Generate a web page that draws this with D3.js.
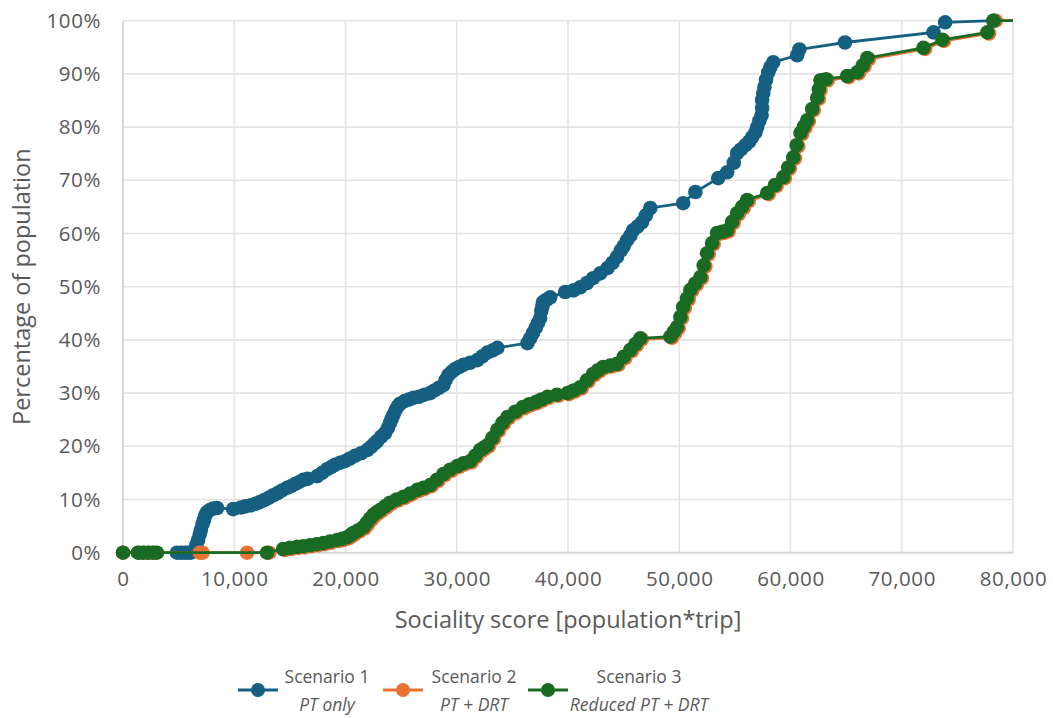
<!DOCTYPE html>
<html>
<head>
<meta charset="utf-8">
<script src="https://cdn.jsdelivr.net/npm/d3@7"></script>
<style>
  html, body { margin: 0; padding: 0; background: #ffffff; }
  svg { display: block; }
  text { font-family: "Open Sans", "Liberation Sans", Arial, sans-serif; fill: #595959; }
</style>
</head>
<body>
<svg id="chart" width="1053" height="718"></svg>
<script>
// ---------- DATA ----------
const xTickValues = [0, 10000, 20000, 30000, 40000, 50000, 60000, 70000, 80000];
const yTickValues = [0, 10, 20, 30, 40, 50, 60, 70, 80, 90, 100];

const seriesNames = ["Scenario 1", "Scenario 2", "Scenario 3"];
const seriesSubtitles = ["PT only", "PT + DRT", "Reduced PT + DRT"];
const seriesColors = ["#156082", "#E97132", "#196B24"];

// Scenario 1 (PT only): sociality score, cumulative % of population
const s1Score = [4850, 5200, 5500, 5800, 6100, 6400, 6600, 6750, 6900, 7000, 7150, 7280, 7400, 7550, 7800, 8100, 8450,
  9900, 10600, 11000, 11500, 11900, 12300, 12700, 13100, 13500, 13900, 14300, 14750, 15100, 15450, 15850, 16200, 16600,
  17450, 17900, 18350, 18700, 19050, 19500, 19950, 20400, 20850, 21400, 21950, 22300, 22600, 22850, 23200, 23550, 23800,
  24000, 24150, 24300, 24500, 24700, 24900, 25300, 25700, 26100, 26600, 27100, 27600, 28000, 28400, 28800, 29000, 29250,
  29550, 29850, 30200, 30600, 31200, 31850, 32300, 32750, 33200, 33650, 36350, 36600, 36850, 37100, 37300, 37500, 37600,
  37700, 37750, 38100, 38400, 39750, 40500, 41100, 41700, 42250, 42900, 43550, 44000, 44400, 44750, 45000, 45300, 45600,
  45850, 46250, 46650, 47000, 47400, 50350, 51450, 53500, 54300, 54900, 55200, 55550, 55950, 56300, 56550, 56850, 57000,
  57200, 57400, 57450, 57450, 57550, 57650, 57800, 58000, 58200, 58450, 60600, 60800, 64900, 72850, 73900, 78250];
const s1Pct = [0, 0, 0, 0, 0, 0.5, 1.5, 2.4, 3.5, 4.3, 5.4, 6.2, 7.0, 7.6, 8.0, 8.3, 8.4,
  8.2, 8.5, 8.7, 8.9, 9.2, 9.5, 9.9, 10.3, 10.8, 11.2, 11.7, 12.2, 12.5, 12.9, 13.3, 13.7, 13.9,
  14.4, 15.0, 15.7, 16.1, 16.5, 16.9, 17.2, 17.7, 18.2, 18.7, 19.3, 19.9, 20.5, 21.0, 21.8, 22.5, 23.4,
  24.4, 25.2, 25.9, 26.8, 27.5, 28.0, 28.5, 28.8, 29.1, 29.3, 29.7, 30.0, 30.5, 31.0, 31.5, 32.5, 33.4,
  34.0, 34.5, 34.9, 35.3, 35.7, 36.2, 36.9, 37.6, 38.0, 38.5, 39.4, 40.3, 41.3, 42.3, 43.2, 44.1, 45.5,
  46.3, 47.1, 47.6, 48.0, 49.0, 49.3, 49.9, 50.7, 51.6, 52.5, 53.5, 54.5, 55.6, 56.8, 57.6, 58.7, 59.6,
  60.6, 61.3, 62.1, 63.4, 64.8, 65.7, 67.8, 70.4, 71.5, 73.3, 75.1, 75.8, 76.6, 77.3, 78.1, 79.0, 80.0,
  81.2, 82.2, 83.6, 85.1, 86.3, 87.5, 88.9, 90.3, 91.3, 92.2, 93.5, 94.6, 95.9, 97.8, 99.7, 100];

// Scenario 2 (PT + DRT)
const s2Score = [0, 1450, 1900, 2350, 2800, 6900, 7150, 11150, 13150,
  14550, 15150, 15800, 16350, 16950, 17550, 18150, 18750, 19400, 19850,
  20300, 20600, 20850, 21300, 21750, 22050, 22350, 22650, 22950, 23250,
  23700, 24150, 24750, 25350, 25950, 26600, 27150, 27750, 28350, 28950,
  29550, 30200, 30750, 31350, 31800, 32250, 32550, 32900, 33350, 33800,
  34250, 34700, 35400, 36100, 36650, 37250, 37750, 38300, 39150, 40100,
  40650, 41250, 41850, 42400, 42850, 43300, 43950, 44550, 45150, 45750,
  46200, 46650, 49350, 49650, 49950, 50250, 50500, 50850, 51150, 51600,
  52050, 52350, 52650, 53100, 53550, 54000, 54450, 54900, 55350, 55800,
  56250, 58050, 58750, 59500, 59950, 60400, 60700, 61050, 61350, 61650,
  62100, 62550, 62700, 62850, 63350, 65250, 66150, 66650, 67050, 72100,
  73800, 77850, 78450, 82000];
const s2Pct = [0, 0, 0, 0, 0, 0, 0, 0, 0,
  0.5, 0.7, 0.9, 1.0, 1.2, 1.4, 1.6, 1.9, 2.2, 2.4,
  2.7, 3.1, 3.5, 4.0, 4.6, 5.4, 6.2, 6.9, 7.4, 7.8,
  8.5, 9.2, 9.8, 10.3, 10.9, 11.6, 12.0, 12.5, 13.5, 14.6,
  15.4, 16.1, 16.6, 17.0, 18.0, 19.1, 19.5, 20.0, 21.4, 22.9,
  24.2, 25.3, 26.3, 27.2, 27.7, 28.1, 28.6, 29.1, 29.5, 29.8,
  30.3, 30.9, 32.2, 33.4, 34.1, 34.7, 35.0, 35.3, 36.6, 37.9,
  39.0, 40.1, 40.4, 41.3, 42.2, 44.1, 46.0, 47.6, 49.2, 50.4,
  51.6, 53.8, 56.1, 58.0, 59.9, 60.1, 60.4, 62.0, 63.6, 64.8,
  66.1, 67.4, 68.9, 70.4, 72.2, 74.1, 76.4, 78.7, 79.9, 81.1,
  83.2, 85.3, 86.9, 88.6, 88.8, 89.4, 90.1, 91.4, 92.8, 94.7,
  96.2, 97.6, 100, 100];

// Scenario 3 (Reduced PT + DRT)
const s3Score = [0, 1350, 1800, 2250, 2700, 3050, 12950, 14400, 15000, 15650, 16200, 16800, 17400, 18000, 18600, 19250,
  19700, 20150, 20450, 20700, 21150, 21600, 21900, 22200, 22500, 22800, 23100, 23550, 24000, 24600, 25200, 25800, 26450,
  27000, 27600, 28200, 28800, 29400, 30050, 30600, 31200, 31650, 32100, 32400, 32750, 33200, 33650, 34100, 34550, 35250,
  35950, 36500, 37100, 37600, 38150, 39000, 39950, 40500, 41100, 41700, 42250, 42700, 43150, 43800, 44400, 45000, 45600,
  46050, 46500, 49200, 49500, 49800, 50100, 50350, 50700, 51000, 51450, 51900, 52200, 52500, 52950, 53400, 53850, 54300,
  54750, 55200, 55650, 56100, 57900, 58600, 59350, 59800, 60250, 60550, 60900, 61200, 61500, 61950, 62400, 62550, 62700,
  63200, 65100, 66000, 66500, 66900, 71950, 73650, 77700, 78250, 82000];
const s3Pct = [0, 0, 0, 0, 0, 0, 0, 0.7, 0.9, 1.1, 1.2, 1.4, 1.6, 1.8, 2.1, 2.4,
  2.6, 2.9, 3.3, 3.7, 4.2, 4.8, 5.6, 6.4, 7.1, 7.6, 8.0, 8.7, 9.4, 10.0, 10.5, 11.1, 11.8,
  12.2, 12.7, 13.7, 14.8, 15.6, 16.3, 16.8, 17.2, 18.2, 19.3, 19.7, 20.2, 21.6, 23.1, 24.4, 25.5, 26.5,
  27.4, 27.9, 28.3, 28.8, 29.3, 29.7, 30.0, 30.5, 31.1, 32.4, 33.6, 34.3, 34.9, 35.2, 35.5, 36.8, 38.1,
  39.2, 40.3, 40.6, 41.5, 42.4, 44.3, 46.2, 47.8, 49.4, 50.6, 51.8, 54.0, 56.3, 58.2, 60.1, 60.3, 60.6,
  62.2, 63.8, 65.0, 66.3, 67.6, 69.1, 70.6, 72.4, 74.3, 76.6, 78.9, 80.1, 81.3, 83.4, 85.5, 87.1, 88.8,
  89.0, 89.6, 90.3, 91.6, 93.0, 94.9, 96.4, 97.8, 100, 100];

// ---------- CHART ----------
const svg = d3.select("#chart");
const m = { left: 123, right: 1013, top: 20.7, bottom: 552.7 };

const x = d3.scaleLinear().domain([0, 80000]).range([m.left, m.right]);
const y = d3.scaleLinear().domain([0, 100]).range([m.bottom, m.top]);

// gridlines
const grid = svg.append("g");
grid.selectAll("line.h").data(yTickValues.filter(d => d > 0)).join("line")
  .attr("x1", m.left).attr("x2", m.right)
  .attr("y1", d => y(d)).attr("y2", d => y(d))
  .attr("stroke", "#e3e3e3").attr("stroke-width", 1.6);
grid.selectAll("line.v").data(xTickValues.filter(d => d > 0)).join("line")
  .attr("x1", d => x(d)).attr("x2", d => x(d))
  .attr("y1", m.top).attr("y2", m.bottom)
  .attr("stroke", "#e3e3e3").attr("stroke-width", 1.6);

// axis lines
svg.append("line").attr("x1", m.left).attr("x2", m.left).attr("y1", m.top).attr("y2", m.bottom)
  .attr("stroke", "#d6d6d6").attr("stroke-width", 2);
svg.append("line").attr("x1", m.left).attr("x2", m.right).attr("y1", m.bottom).attr("y2", m.bottom)
  .attr("stroke", "#d6d6d6").attr("stroke-width", 2);

// axes via d3 axis generators (labels only)
const fmtX = d3.format(",");
const xAxis = d3.axisBottom(x).tickValues(xTickValues).tickFormat(fmtX).tickSize(0).tickPadding(0);
const gx = svg.append("g").attr("transform", `translate(0,${m.bottom + 19})`).call(xAxis);
gx.select(".domain").remove();
gx.selectAll("text").attr("font-size", 20.5).attr("fill", "#595959").attr("dy", "0.71em")
  .style("letter-spacing", "0.6px")
  .style("font-family", '"Open Sans", "Liberation Sans", Arial, sans-serif');

const yAxis = d3.axisLeft(y).tickValues(yTickValues).tickFormat(d => d + "%").tickSize(0).tickPadding(0);
const gy = svg.append("g").attr("transform", `translate(${m.left - 22},0)`).call(yAxis);
gy.select(".domain").remove();
gy.selectAll("text").attr("font-size", 20.5).attr("fill", "#595959")
  .style("letter-spacing", "0.6px")
  .style("font-family", '"Open Sans", "Liberation Sans", Arial, sans-serif');

// axis titles
svg.append("text").attr("x", 568).attr("y", 628)
  .attr("text-anchor", "middle").attr("font-size", 23.5).text("Sociality score [population*trip]");
svg.append("text").attr("transform", `translate(30,${(m.top + m.bottom) / 2}) rotate(-90)`)
  .attr("text-anchor", "middle").attr("font-size", 23.5).text("Percentage of population");

// series
const series = [
  { xs: s1Score, ys: s1Pct },
  { xs: s2Score, ys: s2Pct },
  { xs: s3Score, ys: s3Pct }
].map((s, i) => ({ pts: s.xs.map((v, j) => [v, s.ys[j]]), color: seriesColors[i] }));

svg.append("defs").append("clipPath").attr("id", "plotclip")
  .append("rect").attr("x", 0).attr("y", 0).attr("width", m.right).attr("height", 718);

const line = d3.line().x(d => x(d[0])).y(d => y(d[1]));
series.forEach(s => {
  const g = svg.append("g");
  g.append("path").datum(s.pts).attr("d", line).attr("fill", "none")
    .attr("stroke", s.color).attr("stroke-width", 2.8).attr("clip-path", "url(#plotclip)");
  g.selectAll("circle").data(s.pts.filter(d => d[0] <= 80000)).join("circle")
    .attr("cx", d => x(d[0])).attr("cy", d => y(d[1])).attr("r", 7.3)
    .attr("fill", s.color);
});

// legend
const legendX = [258, 403, 548];
const legendTextX = [327, 474, 639];
seriesNames.forEach((name, i) => {
  const g = svg.append("g");
  g.append("line").attr("x1", legendX[i] - 20).attr("x2", legendX[i] + 20)
    .attr("y1", 690).attr("y2", 690).attr("stroke", seriesColors[i]).attr("stroke-width", 2.8);
  g.append("circle").attr("cx", legendX[i]).attr("cy", 690).attr("r", 7).attr("fill", seriesColors[i]);
  g.append("text").attr("x", legendTextX[i]).attr("y", 683).attr("text-anchor", "middle")
    .attr("font-size", 17.5).text(name);
  g.append("text").attr("x", legendTextX[i]).attr("y", 711).attr("text-anchor", "middle")
    .attr("font-size", 17.5).attr("font-style", "italic").text(seriesSubtitles[i]);
});
</script>
</body>
</html>
